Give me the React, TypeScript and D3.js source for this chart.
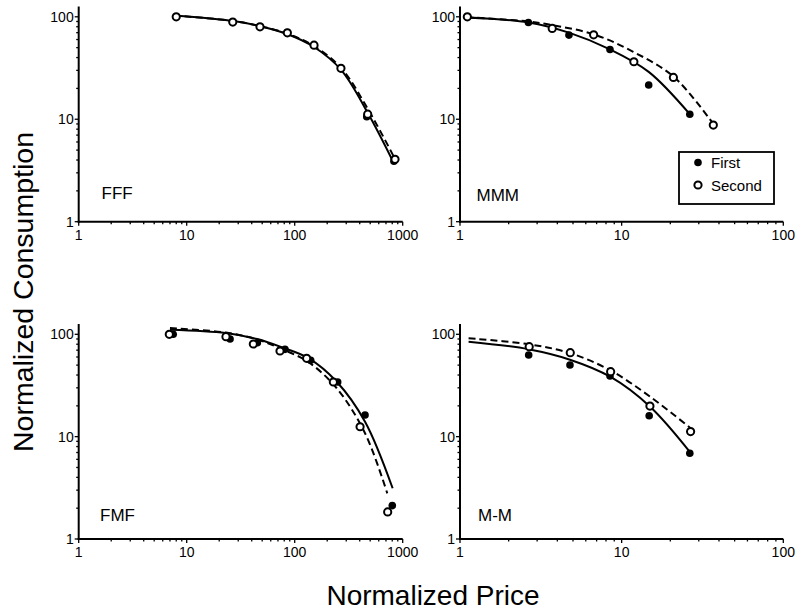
import React from "react";
import * as d3 from "d3";

// ---------- DATA ----------
const panelNames = ["FFF", "MMM", "FMF", "M-M"];
const xTickLabelsWide = ["1", "10", "100", "1000"];
const xTickLabelsNarrow = ["1", "10", "100"];
const yTickLabels = ["1", "10", "100"];
const legendLabels = ["First", "Second"];

// FFF
const fffFirstPrice = [8, 26.7, 47.7, 85.5, 151, 268, 465, 830];
const fffFirstQ = [100, 89, 80, 70, 53, 31.4, 10.6, 3.9];
const fffSecondPrice = [8, 26.7, 47.7, 85.5, 151, 268, 474, 849];
const fffSecondQ = [100, 88.8, 79.9, 69.8, 52.9, 31.4, 11.2, 4.06];
const fffFirstFitPrice = [7.6, 27, 48, 85, 150, 270, 480, 815];
const fffFirstFitQ = [103, 91, 81, 68, 51, 30.2, 11.3, 3.85];
const fffSecondFitPrice = [7.6, 27, 48, 85, 150, 270, 480, 870];
const fffSecondFitQ = [103, 91, 81, 68.5, 52, 31.5, 12.4, 3.9];

// MMM
const mmmFirstPrice = [1.11, 2.65, 4.72, 8.47, 14.7, 26.4];
const mmmFirstQ = [100, 88, 66.3, 48, 21.6, 11.2];
const mmmSecondPrice = [1.11, 3.72, 6.71, 11.9, 20.9, 36.9];
const mmmSecondQ = [100, 77, 66.7, 36.4, 25.6, 8.78];
const mmmFirstFitPrice = [1.1, 2.65, 4.72, 8.47, 14.7, 26.4];
const mmmFirstFitQ = [98.5, 88, 70, 48, 29, 11.2];
const mmmSecondFitPrice = [1.1, 2.65, 3.72, 6.71, 11.8, 21, 36.9];
const mmmSecondFitQ = [99, 90, 83, 67.5, 45.5, 26, 9.0];

// FMF
const fmfFirstPrice = [7.5, 25.2, 45.1, 81.3, 140.6, 250, 448, 801];
const fmfFirstQ = [100, 90, 82.8, 71.3, 55.7, 34.2, 16.3, 2.12];
const fmfSecondPrice = [6.9, 23.1, 41.4, 73.1, 129, 228, 403, 726];
const fmfSecondQ = [100, 94.8, 80.4, 68.7, 58.2, 34.2, 12.5, 1.84];
const fmfFirstFitPrice = [7, 23, 45, 78, 134, 245, 448, 807];
const fmfFirstFitQ = [111, 103, 90, 74, 58.5, 34.4, 14.0, 3.13];
const fmfSecondFitPrice = [7, 23, 45, 78, 134, 245, 448, 720];
const fmfSecondFitQ = [115, 104, 89, 71, 53.5, 29.7, 10.8, 2.79];

// M-M
const mmFirstPrice = [2.66, 4.79, 8.47, 14.8, 26.4];
const mmFirstQ = [62.8, 50.1, 39.1, 16.0, 6.88];
const mmSecondPrice = [2.68, 4.81, 8.55, 14.96, 26.7];
const mmSecondQ = [75.7, 66.1, 43.1, 19.9, 11.2];
const mmFirstFitPrice = [1.13, 2.65, 4.79, 8.5, 15, 26.4];
const mmFirstFitQ = [84.7, 71.5, 56.5, 38.5, 19.6, 7.1];
const mmSecondFitPrice = [1.13, 2.65, 4.79, 8.5, 15, 26.7];
const mmSecondFitQ = [91.4, 80, 65.5, 44.5, 24.6, 12.1];

const zip = (a: number[], b: number[]) => a.map((v, i) => [v, b[i]] as [number, number]);

const FONT = "'Liberation Sans', Arial, Helvetica, sans-serif";

type PanelDef = {
  name: string;
  xMax: number;
  xLabels: string[];
  x0: number;
  x1: number;
  yBottom: number;
  yTop: number;
  first: [number, number][];
  second: [number, number][];
  firstFit: [number, number][];
  secondFit: [number, number][];
  labelX: number;
  labelY: number;
  legend?: boolean;
};

const panels: PanelDef[] = [
  {
    name: panelNames[0], xMax: 1000, xLabels: xTickLabelsWide,
    x0: 78.7, x1: 402.7, yBottom: 221.7, yTop: 16.8,
    first: zip(fffFirstPrice, fffFirstQ), second: zip(fffSecondPrice, fffSecondQ),
    firstFit: zip(fffFirstFitPrice, fffFirstFitQ), secondFit: zip(fffSecondFitPrice, fffSecondFitQ),
    labelX: 101.5, labelY: 198.5,
  },
  {
    name: panelNames[1], xMax: 100, xLabels: xTickLabelsNarrow,
    x0: 460, x1: 783.3, yBottom: 221.7, yTop: 16.8,
    first: zip(mmmFirstPrice, mmmFirstQ), second: zip(mmmSecondPrice, mmmSecondQ),
    firstFit: zip(mmmFirstFitPrice, mmmFirstFitQ), secondFit: zip(mmmSecondFitPrice, mmmSecondFitQ),
    labelX: 476.5, labelY: 201, legend: true,
  },
  {
    name: panelNames[2], xMax: 1000, xLabels: xTickLabelsWide,
    x0: 78.7, x1: 402.7, yBottom: 539, yTop: 334.3,
    first: zip(fmfFirstPrice, fmfFirstQ), second: zip(fmfSecondPrice, fmfSecondQ),
    firstFit: zip(fmfFirstFitPrice, fmfFirstFitQ), secondFit: zip(fmfSecondFitPrice, fmfSecondFitQ),
    labelX: 100, labelY: 521,
  },
  {
    name: panelNames[3], xMax: 100, xLabels: xTickLabelsNarrow,
    x0: 460, x1: 783.3, yBottom: 539, yTop: 334.3,
    first: zip(mmFirstPrice, mmFirstQ), second: zip(mmSecondPrice, mmSecondQ),
    firstFit: zip(mmFirstFitPrice, mmFirstFitQ), secondFit: zip(mmSecondFitPrice, mmSecondFitQ),
    labelX: 478, labelY: 520.5,
  },
];

function minorTicks(max: number) {
  const out: { v: number; major: boolean }[] = [];
  for (let d = 1; d <= max; d *= 10) {
    out.push({ v: d, major: true });
    if (d < max) for (let k = 2; k <= 9; k++) out.push({ v: d * k, major: false });
  }
  return out;
}

function Panel({ p }: { p: PanelDef }) {
  const x = d3.scaleLog().domain([1, p.xMax]).range([p.x0, p.x1]);
  const y = d3.scaleLog().domain([1, 100]).range([p.yBottom, p.yTop]);
  const yAxisTop = y(126);
  const line = d3
    .line<[number, number]>()
    .x((d) => x(d[0]))
    .y((d) => y(d[1]))
    .curve(d3.curveCatmullRom.alpha(0.5));
  const xt = minorTicks(p.xMax);
  const yt = minorTicks(100);
  return (
    <g>
      {/* curves */}
      <path d={line(p.firstFit) || ""} fill="none" stroke="#000" strokeWidth={2} />
      <path d={line(p.secondFit) || ""} fill="none" stroke="#000" strokeWidth={2} strokeDasharray="7,4" />
      {/* axes */}
      <line x1={p.x0} x2={p.x0} y1={yAxisTop} y2={p.yBottom + 1} stroke="#000" strokeWidth={2} />
      <line x1={p.x0 - 1} x2={p.x1} y1={p.yBottom} y2={p.yBottom} stroke="#000" strokeWidth={2} />
      {yt.map((t, i) => (
        <line key={"yt" + i} x1={p.x0 - (t.major ? 4 : 2.5)} x2={p.x0} y1={y(t.v)} y2={y(t.v)} stroke="#000" strokeWidth={1.3} />
      ))}
      {xt.map((t, i) => (
        <line key={"xt" + i} x1={x(t.v)} x2={x(t.v)} y1={p.yBottom} y2={p.yBottom + (t.major ? 4 : 2.5)} stroke="#000" strokeWidth={1.3} />
      ))}
      {yTickLabels.map((l, i) => (
        <text key={"yl" + i} x={p.x0 - 5} y={y(Math.pow(10, i))} dy="0.36em" textAnchor="end" fontSize={14} fontFamily={FONT} fill="#000">
          {l}
        </text>
      ))}
      {p.xLabels.map((l, i) => (
        <text key={"xl" + i} x={x(Math.pow(10, i))} y={p.yBottom + 18} textAnchor="middle" fontSize={14} fontFamily={FONT} fill="#000">
          {l}
        </text>
      ))}
      {/* markers */}
      {p.first.map((d, i) => (
        <circle key={"f" + i} cx={x(d[0])} cy={y(d[1])} r={3.8} fill="#000" />
      ))}
      {p.second.map((d, i) => (
        <circle key={"s" + i} cx={x(d[0])} cy={y(d[1])} r={3.6} fill="#fff" stroke="#000" strokeWidth={2} />
      ))}
      <text x={p.labelX} y={p.labelY} fontSize={17} fontFamily={FONT} fill="#000">
        {p.name}
      </text>
      {p.legend && (
        <g>
          <rect x={679} y={152} width={95} height={52} fill="#fff" stroke="#000" strokeWidth={1.8} />
          <circle cx={698} cy={162.5} r={3.8} fill="#000" />
          <text x={711} y={168} fontSize={15} fontFamily={FONT} fill="#000">{legendLabels[0]}</text>
          <circle cx={698} cy={185} r={3.6} fill="#fff" stroke="#000" strokeWidth={2} />
          <text x={711} y={190.5} fontSize={15} fontFamily={FONT} fill="#000">{legendLabels[1]}</text>
        </g>
      )}
    </g>
  );
}

export default function App() {
  return (
    <svg width={800} height={612} style={{ position: "absolute", left: 0, top: 0, background: "#fff" }}>
      <rect x={0} y={0} width={800} height={612} fill="#fff" />
      {panels.map((p) => (
        <Panel key={p.name} p={p} />
      ))}
      <text x={433} y={605} textAnchor="middle" fontSize={28} fontFamily={FONT} fill="#000">
        Normalized Price
      </text>
      <text transform="translate(33,292) rotate(-90)" textAnchor="middle" fontSize={28.5} fontFamily={FONT} fill="#000">
        Normalized Consumption
      </text>
    </svg>
  );
}
